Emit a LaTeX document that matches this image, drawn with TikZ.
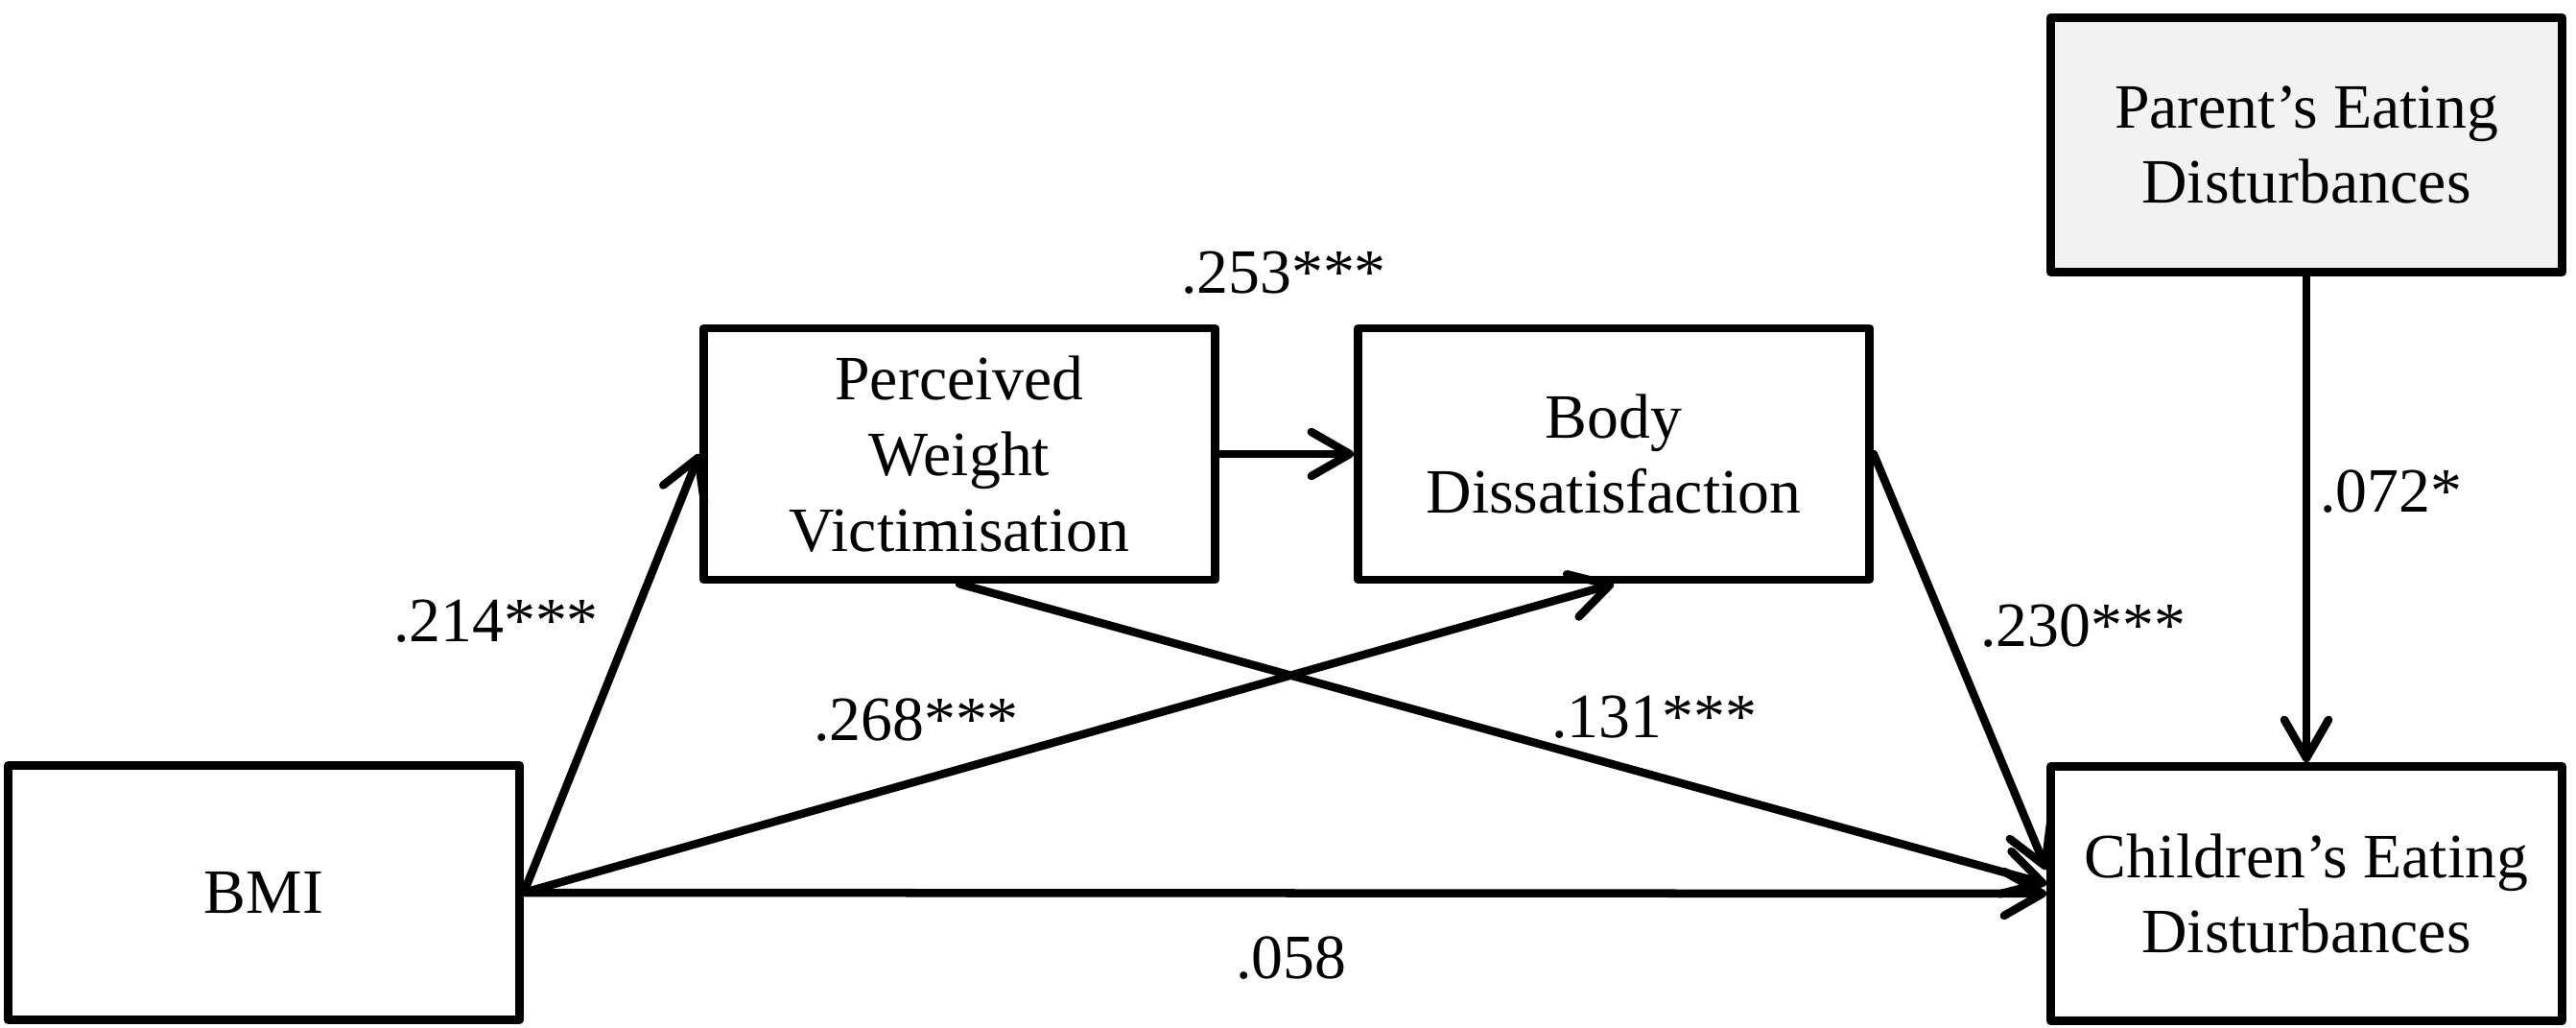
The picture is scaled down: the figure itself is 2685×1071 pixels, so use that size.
\documentclass[tikz,border=0pt]{standalone}
\usepackage{fontspec}
\setmainfont{Liberation Serif}
\usetikzlibrary{arrows.meta}
\begin{document}
\begin{tikzpicture}[x=0.01cm,y=-0.01cm,
  every node/.style={font=\fontsize{18.7pt}{22.4pt}\selectfont},
  varbox/.style={draw=black,line width=0.085cm,line join=round,minimum width=5.33cm,minimum height=2.65cm,align=center,inner sep=0pt},
  path/.style={line width=0.085cm,line cap=round,-{Straight Barb[length=0.4cm,width=0.46cm,round]}},
  coef/.style={inner sep=0pt}]
\useasboundingbox (0,0) rectangle (2685,1071);
\node[varbox] (bmi) at (275,930) {BMI};
\node[varbox,minimum height=2.62cm] (pwv) at (1000,473) {Perceived\\Weight\\Victimisation};
\node[varbox,minimum height=2.62cm] (bd) at (1682,473) {Body\\Dissatisfaction};
\node[varbox,fill={rgb,255:red,242;green,242;blue,242}] (ped) at (2404,151) {Parent’s Eating\\Disturbances};
\node[varbox] (ced) at (2404,931) {Children’s Eating\\Disturbances};

\draw[path] (bmi.east) -- (pwv.west);
\draw[path] (bmi.east) -- (bd.south);
\draw[path] (bmi.east) -- (ced.west);
\draw[path] (pwv.east) -- (bd.west);
\draw[path] (pwv.south) -- ([yshift=0.1cm]ced.west);
\draw[path] (bd.east) -- ([yshift=0.25cm]ced.west);
\draw[path] (ped.south) -- (ced.north);

\node[coef] (c1) at (1338,284) {.253***};
\node[coef] (c2) at (517,647) {.214***};
\node[coef] (c3) at (955,750) {.268***};
\node[coef] (c4) at (1724,747) {.131***};
\node[coef] (c5) at (2171,652) {.230***};
\node[coef] (c6) at (2492,512) {.072*};
\node[coef] (c7) at (1346,998) {.058};
\end{tikzpicture}
\end{document}
